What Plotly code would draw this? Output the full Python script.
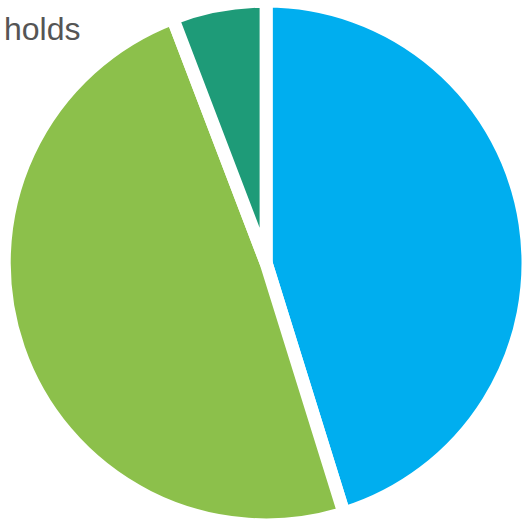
import plotly.graph_objects as go

labels = ["Blue", "Green", "Teal"]
values = [45.2, 49.0, 5.8]
colors = ["#00AEEF", "#8CC04B", "#1E9B78"]
title_text = "holds"

fig = go.Figure()
fig.add_trace(go.Pie(
    labels=labels,
    values=values,
    marker=dict(colors=colors, line=dict(color="white", width=13)),
    sort=False,
    direction="clockwise",
    rotation=0,
    textinfo="none",
    hoverinfo="label+percent",
    showlegend=False,
    domain=dict(x=[0.008, 1], y=[0, 1]),
))

fig.add_annotation(
    text=title_text,
    xref="paper", yref="paper",
    x=2 / 528, y=1 - 29 / 526,
    xanchor="left", yanchor="middle",
    showarrow=False,
    font=dict(family="Liberation Sans, Arial, sans-serif", size=32, color="#555555"),
)

fig.update_layout(
    width=528, height=526,
    margin=dict(l=0, r=0, t=0, b=0),
    paper_bgcolor="white",
    plot_bgcolor="white",
)

fig.write_html("out.html")
